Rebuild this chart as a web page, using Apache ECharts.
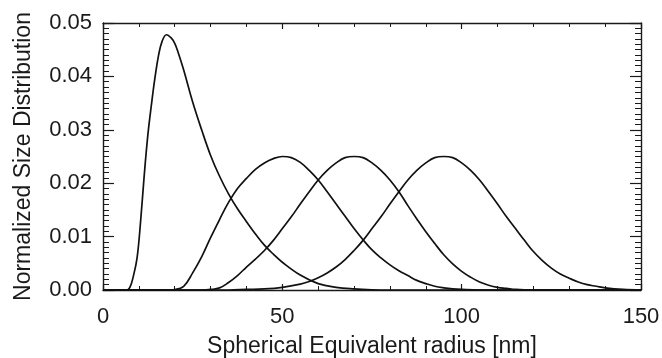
<!DOCTYPE html>
<html>
<head>
<meta charset="utf-8">
<script src="https://cdn.jsdelivr.net/npm/echarts@6/dist/echarts.min.js"></script>
<style>
  html, body { margin: 0; padding: 0; background: #fff; }
  #chart { width: 662px; height: 358px; }
</style>
</head>
<body>
<div id="chart"></div>
<script>
// Size distributions: [radius nm, normalized density]
const narrowMode = [
  [0, 0], [5, 0], [6.5, 0], [7.5, 0.0005], [8.5, 0.0027], [9.5, 0.0060],
  [10.5, 0.0130], [11.5, 0.0215], [12.5, 0.0290], [13.5, 0.0347], [14.5, 0.0398],
  [15.5, 0.0440], [16.5, 0.0466], [17.7, 0.0478], [19, 0.0472], [20, 0.0462],
  [21, 0.0444], [22.5, 0.0412], [25, 0.0352], [27.5, 0.0300], [30, 0.0252],
  [32.5, 0.0213], [35, 0.0180], [37.5, 0.0152], [40, 0.0128], [42.5, 0.0105],
  [45, 0.0084], [47.5, 0.0067], [50, 0.0052], [55, 0.0028], [60, 0.0012],
  [65, 0.0005], [70, 0.0002], [75, 0.00005], [80, 0], [150, 0]
];

const mode50 = [
  [0, 0], [17.5, 0], [20, 0.0001], [22.5, 0.0007], [25, 0.0032], [27.5, 0.0062],
  [30, 0.0098], [32.5, 0.0132], [35, 0.0164], [37.5, 0.0190], [40, 0.0209],
  [42.5, 0.0226], [45, 0.0238], [47.5, 0.0246], [50, 0.0250], [52.5, 0.0248],
  [55, 0.0239], [57.5, 0.0224], [60, 0.0206], [62.5, 0.0184], [65, 0.0161],
  [67.5, 0.0138], [70, 0.0115], [72.5, 0.0094], [75, 0.0075], [77.5, 0.0060],
  [80, 0.0047], [82.5, 0.0036], [85, 0.0027], [87.5, 0.0018], [90, 0.0012],
  [92.5, 0.0007], [95, 0.0004], [97.5, 0.0002], [100, 0.0001], [105, 0], [150, 0]
];

const mode70 = [
  [0, 0], [27.5, 0], [30, 0.0001], [32.5, 0.0004], [35, 0.0014], [37.5, 0.0027],
  [40, 0.0043], [42.5, 0.0058], [45, 0.0074], [47.5, 0.0093], [50, 0.0115],
  [52.5, 0.0137], [55, 0.0161], [57.5, 0.0184], [60, 0.0206], [62.5, 0.0224],
  [65, 0.0238], [67.5, 0.0248], [70, 0.0250], [72.5, 0.0248], [75, 0.0238],
  [77.5, 0.0224], [80, 0.0206], [82.5, 0.0184], [85, 0.0158], [87.5, 0.0133],
  [90, 0.0109], [92.5, 0.0087], [95, 0.0066], [97.5, 0.0049], [100, 0.0035],
  [102.5, 0.0024], [105, 0.0015], [107.5, 0.0009], [110, 0.0005], [112.5, 0.0003],
  [115, 0.0001], [120, 0], [150, 0]
];

const mode95 = [
  [0, 0], [35, 0], [40, 0.0001], [45, 0.0002], [50, 0.0005], [55, 0.0011],
  [57.5, 0.0016], [60, 0.0023], [62.5, 0.0032], [65, 0.0043], [67.5, 0.0057],
  [70, 0.0074], [72.5, 0.0093], [75, 0.0115], [77.5, 0.0137], [80, 0.0161],
  [82.5, 0.0184], [85, 0.0206], [87.5, 0.0224], [90, 0.0238], [92.5, 0.0248],
  [95, 0.0250], [97.5, 0.0248], [100, 0.0238], [102.5, 0.0224], [105, 0.0206],
  [107.5, 0.0184], [110, 0.0161], [112.5, 0.0137], [115, 0.0115], [117.5, 0.0093],
  [120, 0.0072], [122.5, 0.0055], [125, 0.0041], [127.5, 0.0030], [130, 0.0022],
  [132.5, 0.0015], [135, 0.0010], [137.5, 0.0007], [140, 0.0004], [145, 0.0001],
  [150, 0]
];

const xTitle = 'Spherical Equivalent radius [nm]';
const yTitle = 'Normalized Size Distribution';

const font = '"Liberation Sans", Arial, Helvetica, sans-serif';
const ink = '#1a1a1a';

function frameAxis(extra) {
  return Object.assign({
    type: 'value',
    axisLine: { show: true, onZero: false, lineStyle: { color: ink, width: 1.4 } },
    axisTick: { show: true, inside: true, length: 6, lineStyle: { color: ink, width: 1.2 } },
    splitLine: { show: false }
  }, extra);
}

const chart = echarts.init(document.getElementById('chart'), null, { renderer: 'canvas' });

const lineSeries = (data) => ({
  type: 'line',
  data: data,
  showSymbol: false,
  smooth: 0.4,
  lineStyle: { color: '#111', width: 1.7 },
  silent: true,
  animation: false
});

chart.setOption({
  animation: false,
  backgroundColor: '#fff',
  grid: {
    left: 103, right: 21, top: 23, bottom: 68,
    containLabel: false,
    outerBoundsMode: 'none'
  },
  xAxis: [
    frameAxis({
      min: 0, max: 150, interval: 50, position: 'bottom',
      name: xTitle, nameLocation: 'middle', nameGap: 45,
      nameTextStyle: { fontFamily: font, fontSize: 23, color: ink },
      axisLabel: { show: true, margin: 16, fontFamily: font, fontSize: 22, color: ink },
      minorTick: { show: true, splitNumber: 5, length: 4, lineStyle: { color: ink, width: 1 } }
    }),
    frameAxis({
      min: 0, max: 150, interval: 50, position: 'top',
      axisLabel: { show: false },
      minorTick: { show: true, splitNumber: 5, length: 4, lineStyle: { color: ink, width: 1 } }
    })
  ],
  yAxis: [
    frameAxis({
      min: 0, max: 0.05, interval: 0.01, position: 'left',
      name: yTitle, nameLocation: 'middle', nameGap: 68,
      nameTextStyle: { fontFamily: font, fontSize: 23, color: ink },
      axisTick: { show: true, inside: true, length: 11, lineStyle: { color: ink, width: 1.2 } },
      axisLabel: {
        show: true, margin: 11, fontFamily: font, fontSize: 22, color: ink,
        formatter: (v) => v.toFixed(2)
      },
      minorTick: { show: true, splitNumber: 10, length: 6, lineStyle: { color: ink, width: 1 } }
    }),
    frameAxis({
      min: 0, max: 0.05, interval: 0.01, position: 'right',
      axisTick: { show: true, inside: true, length: 11, lineStyle: { color: ink, width: 1.2 } },
      axisLabel: { show: false },
      minorTick: { show: true, splitNumber: 10, length: 6, lineStyle: { color: ink, width: 1 } }
    })
  ],
  series: [
    lineSeries(narrowMode),
    lineSeries(mode50),
    lineSeries(mode70),
    lineSeries(mode95)
  ]
});
</script>
</body>
</html>
